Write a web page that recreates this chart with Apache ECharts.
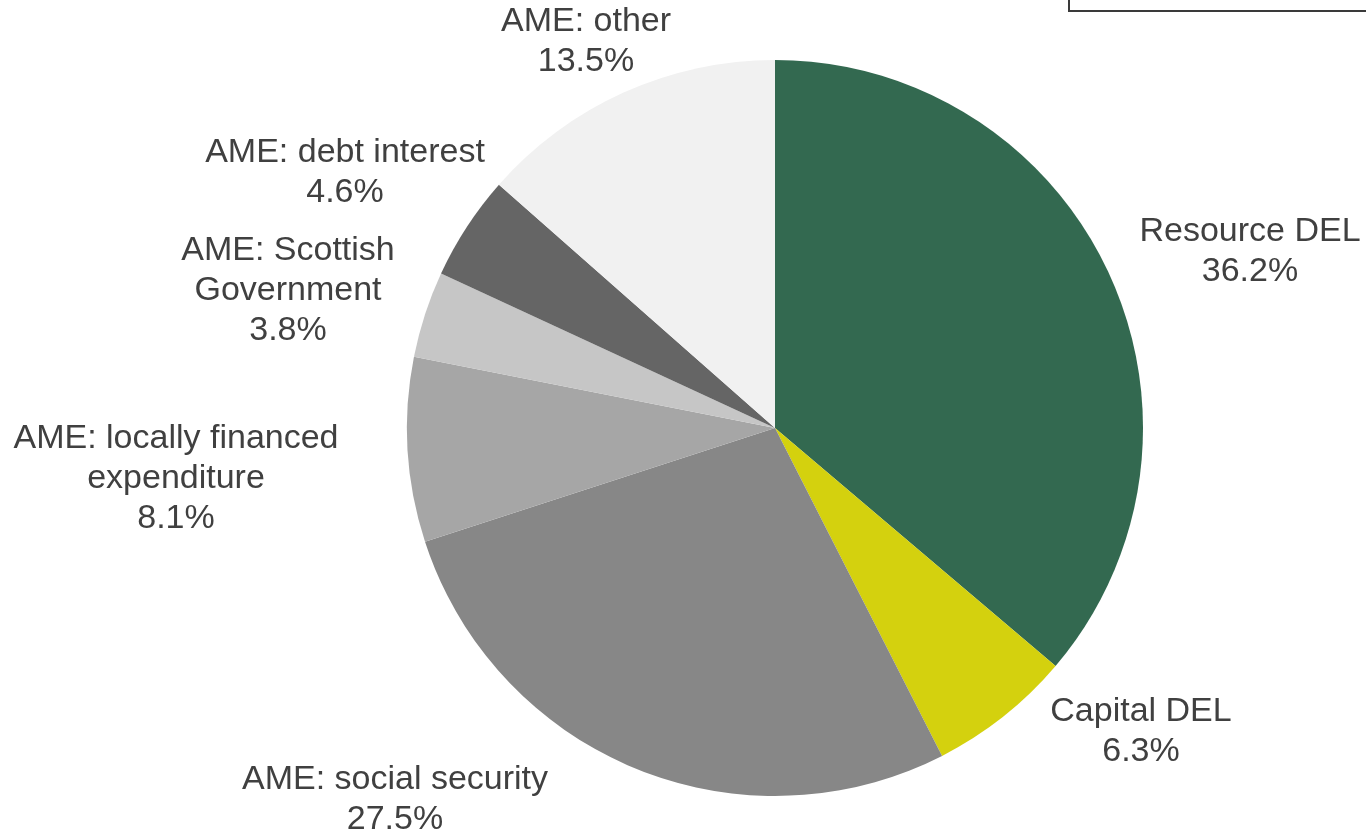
<!DOCTYPE html>
<html>
<head>
<meta charset="utf-8">
<script src="https://cdn.jsdelivr.net/npm/echarts@6/dist/echarts.min.js"></script>
<style>html,body{margin:0;padding:0;background:#fff;}#c{width:1366px;height:832px;}</style>
</head>
<body>
<div id="c"></div>
<script>
const categories = [
  "Resource DEL",
  "Capital DEL",
  "AME: social security",
  "AME: locally financed\nexpenditure",
  "AME: Scottish\nGovernment",
  "AME: debt interest",
  "AME: other"
];
const shares = [36.2, 6.3, 27.5, 8.1, 3.8, 4.6, 13.5];
const colors = ["#336950", "#d4d10e", "#878787", "#a6a6a6", "#c6c6c6", "#656565", "#f1f1f1"];
// label centre positions (layout only)
const labelCentres = [[1250, 252], [1141, 732], [395, 800], [176, 479], [288, 291], [345, 173], [586, 42]];

const chart = echarts.init(document.getElementById('c'), null, {renderer: 'canvas'});
chart.setOption({
  animation: false,
  backgroundColor: '#ffffff',
  color: colors,
  graphic: [{
    type: 'rect',
    shape: {x: 1069, y: -40, width: 320, height: 51},
    style: {fill: '#ffffff', stroke: '#3a3a3a', lineWidth: 2}
  }],
  series: [{
    type: 'pie',
    center: [775, 428],
    radius: 368,
    startAngle: 90,
    clockwise: true,
    avoidLabelOverlap: false,
    itemStyle: {borderWidth: 0},
    label: {
      show: true,
      position: 'outside',
      formatter: p => p.name + '\n' + p.value.toFixed(1) + '%',
      fontFamily: 'Liberation Sans, Arial, sans-serif',
      fontSize: 34,
      lineHeight: 40,
      color: '#404040',
      align: 'center'
    },
    labelLine: {show: false},
    labelLayout: function (params) {
      const p = labelCentres[params.dataIndex];
      return {x: p[0], y: p[1], align: 'center', verticalAlign: 'middle'};
    },
    emphasis: {disabled: true},
    data: categories.map((c, i) => ({name: c, value: shares[i]}))
  }]
});
</script>
</body>
</html>
